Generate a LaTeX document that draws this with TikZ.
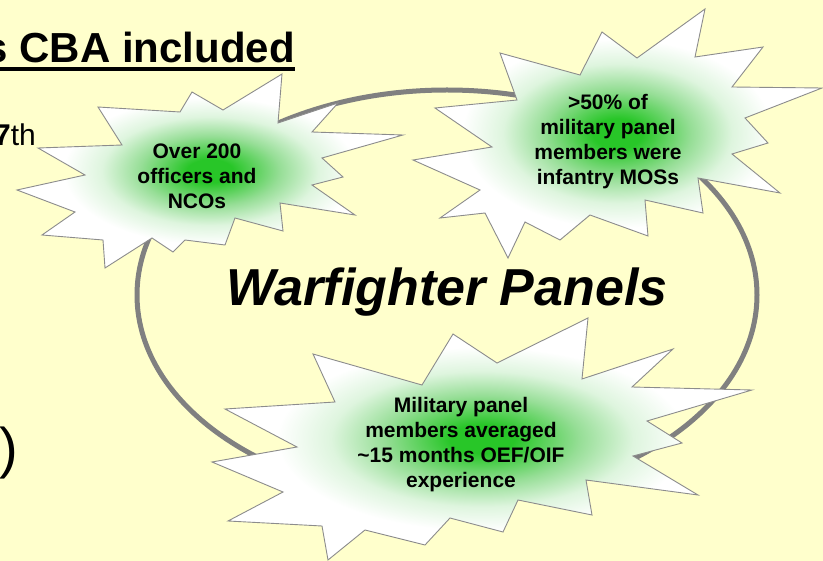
\documentclass[tikz,border=0pt]{standalone}
\usepackage{fontspec}
\setmainfont{Liberation Sans}
\definecolor{bgyellow}{RGB}{255,255,204}
\definecolor{glowc}{RGB}{40,198,40}
\definecolor{glowm}{RGB}{150,222,150}
\definecolor{glowl}{RGB}{222,245,222}
\definecolor{ringgray}{RGB}{128,128,128}
\definecolor{edgegray}{RGB}{140,140,140}
\pgfdeclareradialshading{glowshade}{\pgfpoint{0bp}{0bp}}{color(0bp)=(glowc); color(3bp)=(glowc); color(9bp)=(glowm); color(14bp)=(glowl); color(19bp)=(white); color(50bp)=(white)}
\begin{document}
\begin{tikzpicture}[x=1pt,y=-1pt,
  starshape/.style={draw=edgegray, line width=0.9pt, shading=glowshade, line join=miter},
  startext/.style={font=\fontsize{21}{25}\selectfont\bfseries, align=center, inner sep=0pt},
  ring/.style={draw=ringgray, line width=5pt}
]
\useasboundingbox (0,0) rectangle (823,561);
\fill[bgyellow] (0,0) rectangle (823,561);

% left side partial texts
\node[font=\fontsize{42}{48}\selectfont\bfseries, anchor=base east, inner sep=0pt] (title) at (295,63) {s CBA included};
\draw[line width=4pt] ([xshift=-10pt,yshift=-6pt]title.base west) -- ([yshift=-6pt]title.base east);
\node[font=\fontsize{30}{34}\selectfont, anchor=base east, inner sep=0pt] (seventh) at (36,146) {\textbf{7}th};
\node[font=\fontsize{56}{60}\selectfont, anchor=base west, inner sep=0pt] (paren) at (-1,468) {)};

% ring
\draw[ring] (447,295) ellipse [x radius=310pt, y radius=205pt];

% star 1
\path[starshape] (282,74) -- (278,123) -- (338,103) -- (312,132) -- (403,135) -- (322,158) -- (343,177) -- (312,185) -- (355,215) -- (280,203) -- (283,231) -- (235,218) -- (225,245) -- (185,240) -- (173,252) -- (152,238) -- (105,268) -- (103,240) -- (42,235) -- (75,212) -- (17,190) -- (85,175) -- (38,148) -- (122,145) -- (98,107) -- (180,112) -- (192,92) -- (223,110) -- cycle;

% star 2
\path[starshape] (705,9) -- (695,57) -- (763,47) -- (732,87) -- (822,88) -- (745,118) -- (768,143) -- (732,154) -- (780,193) -- (698,178) -- (703,213) -- (645,200) -- (648,236) -- (590,215) -- (560,240) -- (525,222) -- (508,258) -- (485,213) -- (440,218) -- (480,190) -- (413,160) -- (492,147) -- (435,108) -- (517,100) -- (500,53) -- (580,75) -- (602,32) -- (637,58) -- cycle;

% star 3
\path[starshape] (453,334) -- (497,363) -- (588,318) -- (582,379) -- (673,349) -- (632,387) -- (752,390) -- (647,421) -- (682,443) -- (633,456) -- (698,495) -- (586,480) -- (592,515) -- (518,500) -- (503,532) -- (450,518) -- (425,545) -- (365,530) -- (328,560) -- (322,526) -- (228,521) -- (283,492) -- (212,462) -- (297,447) -- (225,409) -- (335,402) -- (313,354) -- (422,385) -- cycle;

% texts
\node[startext] (t1) at (197,176) {Over 200\\officers and\\NCOs};
\node[startext] (t2) at (608,142) {>50\% of\\military panel\\members were\\infantry MOSs};
\node[startext] (t3) at (461,445) {Military panel\\members averaged\\\textasciitilde15 months OEF/OIF\\experience};

\node[font=\fontsize{52}{56}\selectfont\bfseries\itshape, anchor=base, inner sep=0pt] (wp) at (447,306) {Warfighter Panels};
\end{tikzpicture}
\end{document}
